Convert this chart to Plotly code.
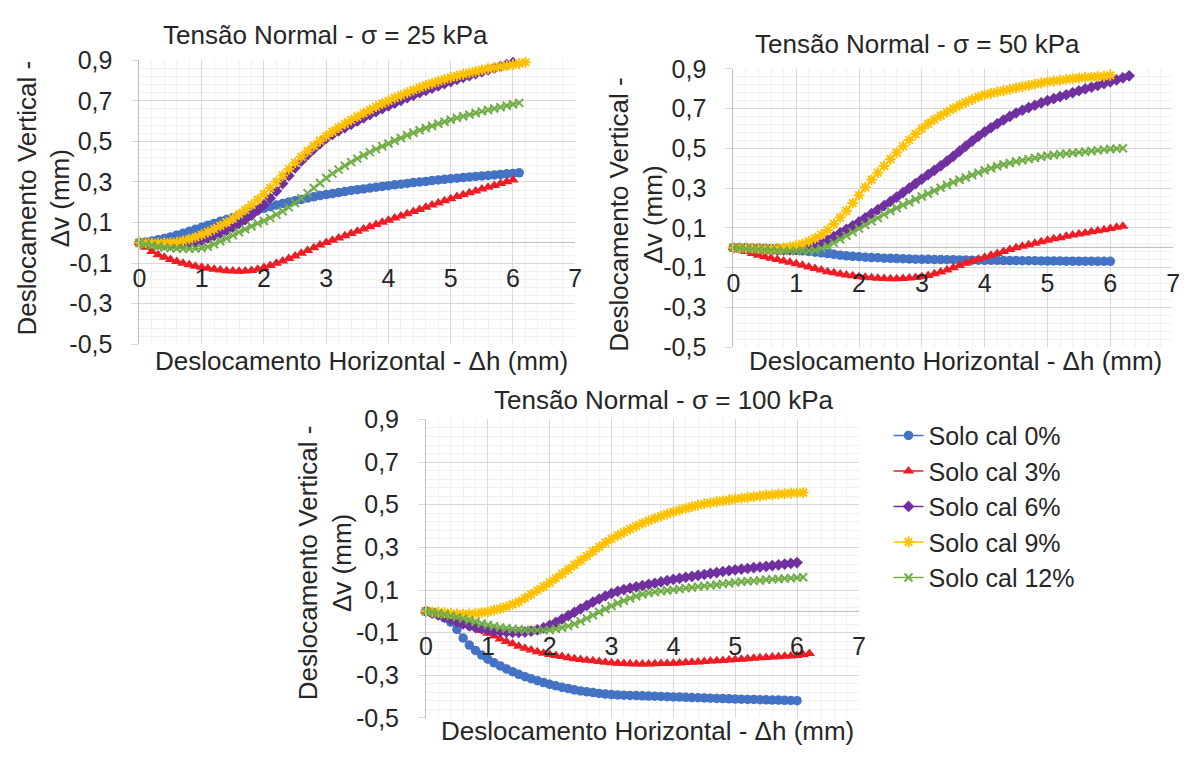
import plotly.graph_objects as go

# ---------------- data ----------------
X_GRID = [0.0, 0.1, 0.2, 0.3, 0.4, 0.5, 0.6, 0.7, 0.8, 0.9,
          1.0, 1.1, 1.2, 1.3, 1.4, 1.5, 1.6, 1.7, 1.8, 1.9,
          2.0, 2.1, 2.2, 2.3, 2.4, 2.5, 2.6, 2.7, 2.8, 2.9,
          3.0, 3.1, 3.2, 3.3, 3.4, 3.5, 3.6, 3.7, 3.8, 3.9,
          4.0, 4.1, 4.2, 4.3, 4.4, 4.5, 4.6, 4.7, 4.8, 4.9,
          5.0, 5.1, 5.2, 5.3, 5.4, 5.5, 5.6, 5.7, 5.8, 5.9,
          6.0, 6.1, 6.2, 6.3]

SERIES_NAMES = ["Solo cal 0%", "Solo cal 3%", "Solo cal 6%", "Solo cal 9%", "Solo cal 12%"]
PANEL_TITLES = ["Tensão Normal - σ = 25 kPa", "Tensão Normal - σ = 50 kPa",
                "Tensão Normal - σ = 100 kPa"]
X_TITLE = "Deslocamento Horizontal - Δh (mm)"
Y_TITLE = "Deslocamento Vertical -<br>Δv (mm)"
Y_TICKS = [-0.5, -0.3, -0.1, 0.1, 0.3, 0.5, 0.7, 0.9]
Y_TICK_LABELS = ["-0,5", "-0,3", "-0,1", "0,1", "0,3", "0,5", "0,7", "0,9"]

# sigma = 25 kPa
DV25_CAL0 = [0.000, 0.004, 0.009, 0.015, 0.022, 0.029, 0.038, 0.047, 0.057, 0.067,
             0.077, 0.087, 0.096, 0.106, 0.115, 0.125, 0.134, 0.143, 0.152, 0.161,
             0.170, 0.178, 0.186, 0.194, 0.201, 0.208, 0.214, 0.221, 0.227, 0.233,
             0.238, 0.243, 0.248, 0.253, 0.258, 0.262, 0.266, 0.270, 0.274, 0.278,
             0.282, 0.286, 0.289, 0.293, 0.297, 0.300, 0.303, 0.307, 0.310, 0.313,
             0.316, 0.319, 0.322, 0.325, 0.327, 0.330, 0.332, 0.335, 0.337, 0.340,
             0.342, 0.345]
DV25_CAL3 = [0.000, -0.022, -0.042, -0.058, -0.071, -0.082, -0.092, -0.101, -0.108, -0.115,
             -0.120, -0.125, -0.130, -0.134, -0.137, -0.139, -0.140, -0.139, -0.136, -0.130,
             -0.121, -0.111, -0.100, -0.089, -0.077, -0.065, -0.051, -0.037, -0.024, -0.011,
             0.002, 0.013, 0.024, 0.035, 0.046, 0.057, 0.068, 0.079, 0.090, 0.101,
             0.112, 0.123, 0.133, 0.144, 0.154, 0.165, 0.176, 0.186, 0.197, 0.207,
             0.218, 0.228, 0.237, 0.247, 0.256, 0.265, 0.274, 0.283, 0.292, 0.301,
             0.310]
DV25_CAL6 = [0.000, -0.002, -0.004, -0.006, -0.008, -0.010, -0.010, -0.008, -0.004, 0.003,
             0.012, 0.023, 0.035, 0.048, 0.062, 0.077, 0.095, 0.115, 0.137, 0.161,
             0.188, 0.220, 0.255, 0.292, 0.331, 0.370, 0.404, 0.434, 0.462, 0.489,
             0.515, 0.534, 0.552, 0.568, 0.584, 0.600, 0.616, 0.632, 0.647, 0.661,
             0.675, 0.688, 0.702, 0.715, 0.727, 0.740, 0.751, 0.763, 0.774, 0.785,
             0.795, 0.805, 0.815, 0.824, 0.834, 0.843, 0.852, 0.861, 0.870, 0.879,
             0.888]
DV25_CAL9 = [0.000, 0.000, -0.001, -0.001, 0.000, 0.001, 0.004, 0.010, 0.018, 0.028,
             0.040, 0.053, 0.068, 0.084, 0.101, 0.120, 0.141, 0.163, 0.187, 0.213,
             0.240, 0.270, 0.301, 0.332, 0.364, 0.395, 0.424, 0.452, 0.478, 0.503,
             0.527, 0.548, 0.568, 0.587, 0.605, 0.622, 0.639, 0.655, 0.671, 0.686,
             0.700, 0.714, 0.727, 0.740, 0.753, 0.765, 0.776, 0.786, 0.796, 0.806,
             0.815, 0.823, 0.831, 0.838, 0.845, 0.852, 0.858, 0.863, 0.868, 0.873,
             0.878, 0.884, 0.890]
DV25_CAL12 = [0.000, -0.006, -0.012, -0.018, -0.023, -0.026, -0.028, -0.029, -0.029, -0.028,
              -0.026, -0.019, -0.007, 0.008, 0.022, 0.037, 0.052, 0.067, 0.082, 0.096,
              0.108, 0.123, 0.139, 0.156, 0.175, 0.196, 0.220, 0.245, 0.270, 0.295,
              0.320, 0.341, 0.361, 0.380, 0.398, 0.415, 0.431, 0.447, 0.462, 0.476,
              0.490, 0.503, 0.517, 0.530, 0.543, 0.555, 0.566, 0.576, 0.587, 0.597,
              0.607, 0.616, 0.624, 0.632, 0.640, 0.648, 0.655, 0.662, 0.669, 0.676,
              0.683, 0.690]

# sigma = 50 kPa
DV50_CAL0 = [0.000, 0.000, 0.000, -0.001, -0.001, -0.002, -0.003, -0.004, -0.006, -0.009,
             -0.012, -0.015, -0.018, -0.022, -0.026, -0.029, -0.033, -0.037, -0.040, -0.043,
             -0.045, -0.047, -0.049, -0.050, -0.052, -0.053, -0.054, -0.055, -0.056, -0.057,
             -0.058, -0.058, -0.059, -0.059, -0.060, -0.060, -0.061, -0.061, -0.062, -0.062,
             -0.063, -0.063, -0.063, -0.064, -0.064, -0.064, -0.065, -0.065, -0.065, -0.066,
             -0.066, -0.066, -0.066, -0.067, -0.067, -0.067, -0.067, -0.067, -0.068, -0.068,
             -0.068]
DV50_CAL3 = [0.000, -0.010, -0.019, -0.028, -0.037, -0.045, -0.052, -0.059, -0.066, -0.073,
             -0.080, -0.088, -0.096, -0.104, -0.112, -0.120, -0.126, -0.132, -0.137, -0.141,
             -0.145, -0.148, -0.151, -0.153, -0.154, -0.155, -0.155, -0.154, -0.152, -0.149,
             -0.145, -0.139, -0.131, -0.122, -0.111, -0.100, -0.089, -0.078, -0.068, -0.058,
             -0.048, -0.038, -0.028, -0.018, -0.009, 0.000, 0.008, 0.016, 0.023, 0.031,
             0.038, 0.045, 0.051, 0.058, 0.064, 0.070, 0.075, 0.081, 0.086, 0.091,
             0.097, 0.103, 0.109]
DV50_CAL6 = [0.000, -0.001, -0.003, -0.004, -0.006, -0.008, -0.010, -0.011, -0.011, -0.010,
             -0.008, -0.004, 0.002, 0.010, 0.023, 0.040, 0.057, 0.075, 0.093, 0.111,
             0.130, 0.151, 0.172, 0.192, 0.212, 0.233, 0.255, 0.278, 0.300, 0.323,
             0.346, 0.368, 0.390, 0.412, 0.436, 0.460, 0.486, 0.512, 0.537, 0.561,
             0.583, 0.604, 0.624, 0.643, 0.661, 0.678, 0.692, 0.705, 0.717, 0.729,
             0.740, 0.750, 0.760, 0.770, 0.780, 0.790, 0.799, 0.808, 0.817, 0.826,
             0.835, 0.845, 0.855, 0.865]
DV50_CAL9 = [0.000, 0.000, -0.001, -0.002, -0.004, -0.005, -0.005, -0.003, 0.000, 0.005,
             0.011, 0.020, 0.033, 0.048, 0.066, 0.090, 0.120, 0.152, 0.186, 0.225,
             0.265, 0.305, 0.343, 0.378, 0.412, 0.446, 0.479, 0.511, 0.542, 0.572,
             0.600, 0.624, 0.645, 0.665, 0.683, 0.700, 0.717, 0.732, 0.746, 0.759,
             0.770, 0.777, 0.784, 0.791, 0.798, 0.805, 0.811, 0.817, 0.823, 0.829,
             0.835, 0.839, 0.843, 0.847, 0.851, 0.855, 0.857, 0.859, 0.861, 0.863,
             0.868]
DV50_CAL12 = [0.000, -0.002, -0.004, -0.006, -0.008, -0.010, -0.012, -0.014, -0.015, -0.016,
              -0.016, -0.016, -0.015, -0.012, -0.003, 0.008, 0.025, 0.043, 0.061, 0.079,
              0.097, 0.115, 0.133, 0.150, 0.168, 0.185, 0.200, 0.215, 0.229, 0.244,
              0.258, 0.272, 0.287, 0.302, 0.316, 0.330, 0.342, 0.354, 0.366, 0.378,
              0.390, 0.400, 0.410, 0.419, 0.427, 0.434, 0.440, 0.446, 0.452, 0.458,
              0.463, 0.467, 0.471, 0.474, 0.477, 0.480, 0.483, 0.487, 0.490, 0.494,
              0.497, 0.499, 0.501]

# sigma = 100 kPa
DV100_CAL0 = [0.000, -0.008, -0.017, -0.030, -0.050, -0.085, -0.125, -0.158, -0.183, -0.205,
              -0.224, -0.241, -0.256, -0.270, -0.283, -0.295, -0.306, -0.316, -0.325, -0.334,
              -0.342, -0.349, -0.356, -0.362, -0.368, -0.373, -0.377, -0.381, -0.385, -0.388,
              -0.390, -0.392, -0.393, -0.394, -0.395, -0.396, -0.397, -0.398, -0.399, -0.400,
              -0.401, -0.402, -0.403, -0.404, -0.405, -0.406, -0.407, -0.408, -0.409, -0.410,
              -0.411, -0.412, -0.413, -0.413, -0.414, -0.415, -0.416, -0.416, -0.417, -0.418,
              -0.419]
DV100_CAL3 = [0.000, -0.005, -0.011, -0.019, -0.028, -0.038, -0.050, -0.063, -0.077, -0.090,
              -0.103, -0.116, -0.129, -0.141, -0.152, -0.163, -0.173, -0.181, -0.189, -0.196,
              -0.202, -0.207, -0.212, -0.217, -0.222, -0.226, -0.229, -0.232, -0.235, -0.238,
              -0.241, -0.243, -0.245, -0.246, -0.247, -0.247, -0.247, -0.246, -0.245, -0.244,
              -0.243, -0.242, -0.240, -0.238, -0.237, -0.235, -0.233, -0.231, -0.230, -0.228,
              -0.226, -0.224, -0.222, -0.220, -0.218, -0.216, -0.214, -0.213, -0.211, -0.209,
              -0.207, -0.203, -0.198]
DV100_CAL6 = [0.000, -0.008, -0.017, -0.027, -0.038, -0.049, -0.059, -0.068, -0.076, -0.082,
              -0.087, -0.091, -0.095, -0.098, -0.099, -0.099, -0.097, -0.093, -0.087, -0.077,
              -0.065, -0.051, -0.036, -0.020, -0.004, 0.012, 0.028, 0.044, 0.058, 0.072,
              0.084, 0.094, 0.102, 0.109, 0.115, 0.121, 0.127, 0.132, 0.138, 0.144,
              0.150, 0.155, 0.160, 0.164, 0.169, 0.173, 0.178, 0.182, 0.187, 0.191,
              0.195, 0.198, 0.201, 0.205, 0.208, 0.211, 0.215, 0.218, 0.222, 0.225,
              0.229]
DV100_CAL9 = [0.000, -0.002, -0.004, -0.007, -0.010, -0.012, -0.013, -0.012, -0.010, -0.006,
              -0.002, 0.006, 0.013, 0.022, 0.033, 0.045, 0.062, 0.080, 0.098, 0.116,
              0.135, 0.155, 0.176, 0.197, 0.218, 0.239, 0.260, 0.281, 0.302, 0.322,
              0.340, 0.356, 0.371, 0.386, 0.400, 0.413, 0.425, 0.436, 0.447, 0.457,
              0.467, 0.475, 0.483, 0.491, 0.498, 0.505, 0.509, 0.514, 0.518, 0.523,
              0.527, 0.531, 0.534, 0.538, 0.541, 0.545, 0.547, 0.550, 0.552, 0.554,
              0.556, 0.557]
DV100_CAL12 = [0.000, -0.004, -0.009, -0.015, -0.021, -0.027, -0.034, -0.042, -0.049, -0.057,
               -0.064, -0.070, -0.075, -0.079, -0.083, -0.085, -0.087, -0.088, -0.088, -0.088,
               -0.087, -0.083, -0.077, -0.069, -0.059, -0.047, -0.033, -0.018, -0.003, 0.011,
               0.025, 0.038, 0.050, 0.061, 0.071, 0.080, 0.086, 0.091, 0.095, 0.098,
               0.101, 0.105, 0.109, 0.112, 0.116, 0.119, 0.122, 0.125, 0.129, 0.132,
               0.136, 0.139, 0.141, 0.143, 0.145, 0.148, 0.150, 0.152, 0.154, 0.156,
               0.158, 0.160]

PANELS = [
    [DV25_CAL0, DV25_CAL3, DV25_CAL6, DV25_CAL9, DV25_CAL12],
    [DV50_CAL0, DV50_CAL3, DV50_CAL6, DV50_CAL9, DV50_CAL12],
    [DV100_CAL0, DV100_CAL3, DV100_CAL6, DV100_CAL9, DV100_CAL12],
]

# ---------------- style ----------------
W, H = 1191, 758
FONT = "Arial, Liberation Sans, sans-serif"
TXT = "#262626"
MAJOR = "#D9D9D9"
MINOR = "#F0F0F0"
AXIS = "#BFBFBF"
Y_RANGE = [-0.5, 0.9]
X_RANGE = [0, 7]

STYLES = [
    dict(color="#4472C4", symbol="circle", size=9.5, lw=0),
    dict(color="#EE1C25", symbol="triangle-up", size=10, lw=0),
    dict(color="#7030A0", symbol="diamond", size=9, lw=0),
    dict(color="#FFC000", symbol="asterisk-open", size=9, lw=2),
    dict(color="#70AD47", symbol="x-thin-open", size=8, lw=2),
]

# plot areas in pixels: (left, right, top, bottom)
BOXES = [(134, 575, 48, 343), (735, 1180, 57, 346), (424, 862, 421, 731)]
TITLE_POS = [(322, 22), (921, 31), (665, 401)]
XTITLE_POS = [(359, 360), (960, 360), (648, 745)]
YTITLE_POS = [(37, 191), (637, 208), (322, 570)]


def px_x(p):
    return p / W


def px_y(p):
    return 1 - p / H


fig = go.Figure()
annotations = []
layout_axes = {}

for k, series in enumerate(PANELS):
    sfx = "" if k == 0 else str(k + 1)
    l, r, t, b = BOXES[k]
    dx = [px_x(l), px_x(r)]
    dy = [px_y(b), px_y(t)]
    zero_pos = dy[0] + (0 - Y_RANGE[0]) / (Y_RANGE[1] - Y_RANGE[0]) * (dy[1] - dy[0])

    for j, yv in enumerate(series):
        st = STYLES[j]
        fig.add_trace(go.Scatter(
            x=X_GRID[:len(yv)], y=yv, name=SERIES_NAMES[j],
            mode="lines+markers",
            line=dict(color=st["color"], width=1.5),
            marker=dict(symbol=st["symbol"], size=st["size"], color=st["color"],
                        line=dict(color=st["color"], width=st["lw"])),
            xaxis="x" + sfx, yaxis="y" + sfx,
            showlegend=(k == 2), cliponaxis=False,
        ))

    layout_axes["xaxis" + sfx] = dict(
        domain=dx, range=X_RANGE, anchor="free", position=zero_pos,
        tickmode="linear", tick0=0, dtick=1,
        showgrid=True, gridcolor=MAJOR, gridwidth=1,
        minor=dict(tickmode="linear", tick0=0, dtick=0.2, showgrid=True,
                   gridcolor=MINOR, gridwidth=1),
        zeroline=False, showline=False, ticks="",
        ticklabelstandoff=18,
        tickfont=dict(family=FONT, size=25, color=TXT),
    )
    layout_axes["yaxis" + sfx] = dict(
        domain=dy, range=Y_RANGE, anchor="x" + sfx,
        tickmode="array", tickvals=Y_TICKS, ticktext=Y_TICK_LABELS,
        showgrid=True, gridcolor=MAJOR, gridwidth=1,
        minor=dict(tickmode="linear", tick0=-0.5, dtick=0.04, showgrid=True,
                   gridcolor=MINOR, gridwidth=1),
        zeroline=True, zerolinecolor=AXIS, zerolinewidth=1,
        showline=True, linecolor=AXIS, linewidth=1,
        ticks="outside", ticklen=7, tickcolor=MAJOR,
        ticklabelstandoff=14,
        tickfont=dict(family=FONT, size=25, color=TXT),
    )

    tx, ty = TITLE_POS[k]
    annotations.append(dict(text=PANEL_TITLES[k], x=px_x(tx), y=px_y(ty), xref="paper",
                            yref="paper", showarrow=False, xanchor="center", yanchor="middle",
                            font=dict(family=FONT, size=26, color=TXT)))
    ax_, ay_ = XTITLE_POS[k]
    annotations.append(dict(text=X_TITLE, x=px_x(ax_), y=px_y(ay_), xref="paper",
                            yref="paper", showarrow=False, xanchor="center", yanchor="middle",
                            font=dict(family=FONT, size=26, color=TXT)))
    yx, yy = YTITLE_POS[k]
    annotations.append(dict(text=Y_TITLE, x=px_x(yx), y=px_y(yy), xref="paper",
                            yref="paper", showarrow=False, xanchor="center", yanchor="middle",
                            textangle=-90,
                            font=dict(family=FONT, size=26, color=TXT)))

fig.update_layout(
    width=W, height=H, autosize=False,
    margin=dict(l=0, r=0, t=0, b=0),
    paper_bgcolor="white", plot_bgcolor="white",
    font=dict(family=FONT, color=TXT),
    annotations=annotations,
    legend=dict(x=px_x(892), y=px_y(414), xanchor="left", yanchor="top",
                bgcolor="rgba(0,0,0,0)", font=dict(family=FONT, size=25, color=TXT),
                tracegroupgap=0, itemwidth=30),
    **layout_axes,
)

fig.write_html("out.html",
               config={"displayModeBar": False},
               post_script="document.body.style.margin='0px';"
                           "document.body.style.overflow='hidden';")
